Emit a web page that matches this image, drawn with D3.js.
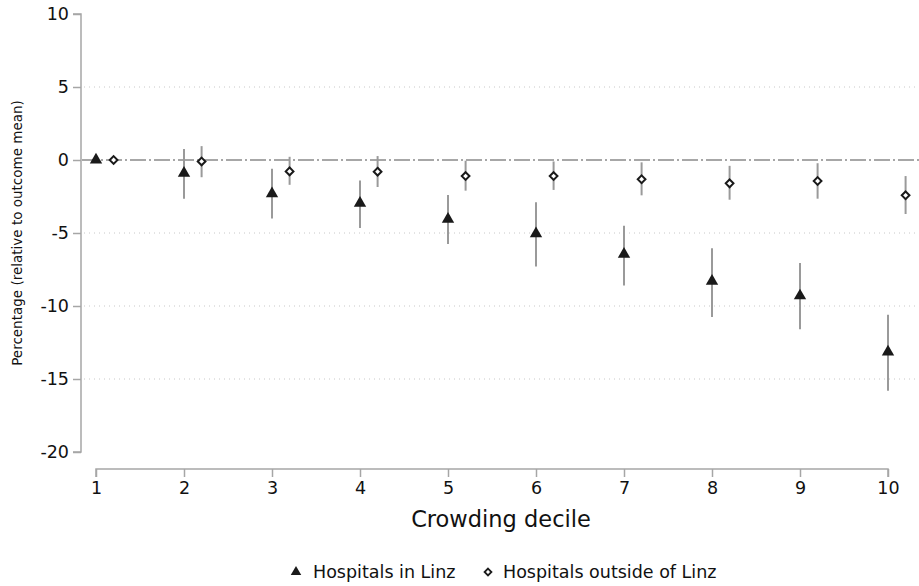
<!DOCTYPE html>
<html>
<head>
<meta charset="utf-8">
<script src="https://cdn.jsdelivr.net/npm/d3@7"></script>
<style>
  body { margin: 0; background: #fff; }
  svg { font-family: "DejaVu Sans", sans-serif; display: block; }
</style>
</head>
<body>
<svg id="chart" width="919" height="586"></svg>
<script>
// Crowding deciles
const deciles = [1, 2, 3, 4, 5, 6, 7, 8, 9, 10];

// Hospitals in Linz: estimate and 95% CI bounds (% of outcome mean)
const linzEst = [0, -0.9, -2.3, -2.95, -4.05, -5.05, -6.45, -8.3, -9.3, -13.15];
const linzLo  = [0, -2.65, -4.0, -4.65, -5.75, -7.3, -8.6, -10.75, -11.6, -15.8];
const linzHi  = [0, 0.75, -0.6, -1.4, -2.4, -2.9, -4.5, -6.05, -7.05, -10.6];

// Hospitals outside of Linz: estimate and 95% CI bounds
const outEst = [0, -0.1, -0.78, -0.8, -1.1, -1.1, -1.32, -1.6, -1.44, -2.42];
const outLo  = [0, -1.18, -1.7, -1.85, -2.1, -2.05, -2.42, -2.72, -2.65, -3.7];
const outHi  = [0, 0.95, 0.22, 0.27, -0.05, -0.1, -0.16, -0.4, -0.22, -1.1];

const yTicks = [10, 5, 0, -5, -10, -15, -20];
const gridTicks = [5, -5, -10, -15];

const svg = d3.select("#chart");
const font = "'DejaVu Sans', sans-serif";

const x = d3.scaleLinear().domain([1, 10]).range([96, 888]);
const y = d3.scaleLinear().domain([-20, 10]).range([452, 14]);

const axisColor = "#a6a6a6";

// dotted horizontal grid
svg.append("g").selectAll("line").data(gridTicks).join("line")
  .attr("x1", 84).attr("x2", 918)
  .attr("y1", d => y(d)).attr("y2", d => y(d))
  .attr("stroke", "#c8c8c8").attr("stroke-width", 1)
  .attr("stroke-dasharray", "1,4");

// reference line at zero
svg.append("line")
  .attr("x1", 82).attr("x2", 919)
  .attr("y1", y(0)).attr("y2", y(0))
  .attr("stroke", "#8a8a8a").attr("stroke-width", 1.4)
  .attr("stroke-dasharray", "16,3,2,3");

// y axis (plain hyphen for negatives)
const yAxis = svg.append("g").attr("transform", "translate(81,0)")
  .call(d3.axisLeft(y).tickValues(yTicks).tickSize(8).tickPadding(4).tickFormat(d => String(d)));
yAxis.attr("font-family", font).attr("font-size", 17.5);
yAxis.select(".domain").attr("stroke", axisColor).attr("stroke-width", 1.5)
  .attr("d", `M-8,${y(10)}H0V${y(-20)}H-8`);
yAxis.selectAll(".tick line").attr("stroke", axisColor).attr("stroke-width", 1.5);
yAxis.selectAll(".tick text").attr("fill", "#111");

// x axis
const xAxis = svg.append("g").attr("transform", "translate(0,469)")
  .call(d3.axisBottom(x).tickValues(deciles).tickSize(8).tickPadding(5).tickFormat(d => String(d)));
xAxis.attr("font-family", font).attr("font-size", 17.5);
xAxis.select(".domain").attr("stroke", axisColor).attr("stroke-width", 1.5)
  .attr("d", `M${x(1)},8V0H${x(10)}V8`);
xAxis.selectAll(".tick line").attr("stroke", axisColor).attr("stroke-width", 1.5);
xAxis.selectAll(".tick text").attr("fill", "#111");

// axis titles
svg.append("text")
  .attr("transform", `translate(17,${y(-5)}) rotate(-90)`)
  .attr("text-anchor", "middle").attr("dominant-baseline", "central")
  .attr("font-family", font).attr("font-size", 13.5).attr("fill", "#111")
  .text("Percentage (relative to outcome mean)");

svg.append("text")
  .attr("x", (x(1) + x(10)) / 2 + 9).attr("y", 527)
  .attr("text-anchor", "middle")
  .attr("font-family", font).attr("font-size", 22.5).attr("fill", "#111")
  .text("Crowding decile");

const offset = 0.2;
const linz = deciles.map((d, i) => ({ d, est: linzEst[i], lo: linzLo[i], hi: linzHi[i] }));
const outside = deciles.map((d, i) => ({ d: d + offset, est: outEst[i], lo: outLo[i], hi: outHi[i] }));

// confidence interval spikes
const ciColor = "#9a9a9a";
svg.append("g").selectAll("line").data(linz.filter(p => p.lo !== p.hi)).join("line")
  .attr("x1", p => x(p.d)).attr("x2", p => x(p.d))
  .attr("y1", p => y(p.hi)).attr("y2", p => y(p.lo))
  .attr("stroke", ciColor).attr("stroke-width", 2);
svg.append("g").selectAll("line").data(outside.filter(p => p.lo !== p.hi)).join("line")
  .attr("x1", p => x(p.d)).attr("x2", p => x(p.d))
  .attr("y1", p => y(p.hi)).attr("y2", p => y(p.lo))
  .attr("stroke", ciColor).attr("stroke-width", 2);

// markers
const tri = d3.symbol().type(d3.symbolTriangle).size(66);
const dia = d3.symbol().type(d3.symbolDiamond2).size(38);

svg.append("g").selectAll("path").data(linz).join("path")
  .attr("transform", p => `translate(${x(p.d)},${y(p.est)})`)
  .attr("d", tri).attr("fill", "#1a1a1a");

svg.append("g").selectAll("path").data(outside).join("path")
  .attr("transform", p => `translate(${x(p.d)},${y(p.est)})`)
  .attr("d", dia).attr("fill", "#fff").attr("stroke", "#1a1a1a").attr("stroke-width", 2);

// legend
const leg = svg.append("g").attr("transform", "translate(0,572)")
  .attr("font-family", font).attr("font-size", 17.5);
leg.append("path").attr("transform", "translate(296,0)")
  .attr("d", d3.symbol().type(d3.symbolTriangle).size(48)).attr("fill", "#1a1a1a");
leg.append("text").attr("x", 313).attr("y", 0).attr("dominant-baseline", "central")
  .attr("fill", "#111").text("Hospitals in Linz");
leg.append("path").attr("transform", "translate(488,0)")
  .attr("d", d3.symbol().type(d3.symbolDiamond2).size(30))
  .attr("fill", "#fff").attr("stroke", "#1a1a1a").attr("stroke-width", 1.8);
leg.append("text").attr("x", 503).attr("y", 0).attr("dominant-baseline", "central")
  .attr("fill", "#111").text("Hospitals outside of Linz");
</script>
</body>
</html>
